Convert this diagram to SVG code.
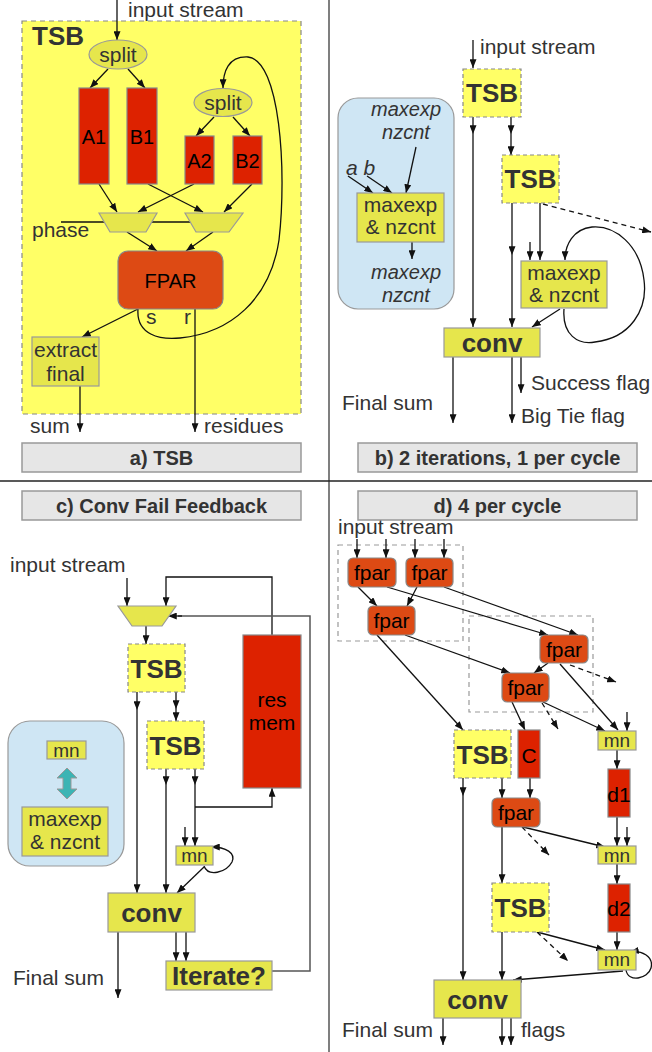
<svg xmlns="http://www.w3.org/2000/svg" width="652" height="1052" viewBox="0 0 652 1052">
<defs>
<marker id="ah" viewBox="0 0 10 8" refX="10" refY="4" markerWidth="9" markerHeight="7" markerUnits="userSpaceOnUse" orient="auto"><path d="M0,0 L10,4 L0,8 z" fill="#111"/></marker>
</defs>
<style>
.t{font-family:"Liberation Sans",Arial,sans-serif;font-size:21px;fill:#333}
.m{text-anchor:middle}
.b{font-weight:bold}
.i{font-style:italic}
.k{fill:#000}
.ln{stroke:#111;stroke-width:1.3;fill:none;marker-end:url(#ah)}
.pl{stroke:#111;stroke-width:1.3;fill:none}
.gl{stroke:#555;stroke-width:1.5;fill:none}
.ds{stroke-dasharray:5,4}
.yb{fill:#e6e64c;stroke:#999;stroke-width:1.2}
.tsb{fill:#ffff66;stroke:#888;stroke-dasharray:4,3;stroke-width:1.2}
.red{fill:#dd2200;stroke:#888;stroke-width:1.2}
.fp{fill:#dd4a14;stroke:#888;stroke-width:1.2}
.cap{fill:#e6e6e6;stroke:#999;stroke-width:1.5}
.leg{fill:#cfe6f4;stroke:#999;stroke-width:1.2}
.grp{fill:none;stroke:#999;stroke-dasharray:5,4;stroke-width:1.2}
</style>
<rect width="652" height="1052" fill="#fff"/>
<g id="dividers">
<line x1="329" y1="0" x2="329" y2="1052" stroke="#555" stroke-width="1.5"/>
<line x1="0" y1="481" x2="652" y2="481" stroke="#222" stroke-width="1.5"/>
</g>

<!-- Panel a -->
<g id="a-tsb-frame"><rect x="22" y="21" width="279" height="393" fill="#ffff66" stroke="#888" stroke-dasharray="5,4" stroke-width="1.2"/><text class="t b" x="32" y="45" style="font-size:26px">TSB</text></g>
<g id="a-connectors">
<line class="ln" x1="117" y1="0" x2="117" y2="40"/>
<line class="ln" x1="108" y1="69" x2="90" y2="88"/>
<line class="ln" x1="128" y1="69" x2="145" y2="88"/>
<line class="ln" x1="214" y1="117" x2="196" y2="136"/>
<line class="ln" x1="233" y1="117" x2="250" y2="136"/>
<line class="ln" x1="99" y1="184" x2="117" y2="212"/>
<line class="ln" x1="194" y1="184" x2="138" y2="212"/>
<line class="ln" x1="148" y1="184" x2="203" y2="212"/>
<line class="ln" x1="252" y1="184" x2="224" y2="212"/>
<line class="pl" x1="61" y1="222" x2="195" y2="222"/>
<line class="ln" x1="127" y1="232" x2="157" y2="251"/>
<line class="ln" x1="213" y1="232" x2="186" y2="251"/>
<path class="ln" d="M138,309 C136,335 160,340 180,338 C230,333 270,300 279,240 C287,170 280,60 248,57 C228,56 223,72 223,88"/>
<line class="ln" x1="138" y1="309" x2="82" y2="337"/>
<line class="ln" x1="80" y1="386" x2="80" y2="432"/>
<line class="ln" x1="195" y1="309" x2="195" y2="432"/>
</g>
<g id="a-split1"><ellipse class="yb" cx="118" cy="54.5" rx="29" ry="14.5"/><text class="t m" x="118" y="62">split</text></g>
<g id="a-split2"><ellipse class="yb" cx="223" cy="102.5" rx="29" ry="14"/><text class="t m" x="223" y="110">split</text></g>
<g id="a-A1"><rect class="red" x="79" y="88" width="30" height="96"/><text class="t m k" x="94" y="144" style="font-size:20px">A1</text></g>
<g id="a-B1"><rect class="red" x="127" y="88" width="30" height="96"/><text class="t m k" x="142" y="144" style="font-size:20px">B1</text></g>
<g id="a-A2"><rect class="red" x="185" y="136" width="29" height="48"/><text class="t m k" x="199.5" y="168" style="font-size:20px">A2</text></g>
<g id="a-B2"><rect class="red" x="233" y="136" width="29" height="48"/><text class="t m k" x="247.5" y="168" style="font-size:20px">B2</text></g>
<g id="a-mux1"><polygon class="yb" points="99,213 157,213 146,232 110,232"/></g>
<g id="a-mux2"><polygon class="yb" points="185,213 243,213 229,232 196,232"/></g>
<g id="a-fpar"><rect class="fp" x="118" y="251" width="105" height="58" rx="10"/><text class="t m k" x="170.5" y="288" style="font-size:20px">FPAR</text></g>
<g id="a-extract"><rect class="yb" x="32" y="337" width="67" height="49"/><text class="t m" x="65.5" y="357">extract</text><text class="t m" x="65.5" y="381">final</text></g>
<g id="a-labels">
<text class="t" x="128" y="17">input stream</text>
<text class="t" x="32" y="237">phase</text>
<text class="t" x="146" y="324">s</text>
<text class="t" x="184" y="324">r</text>
<text class="t" x="30" y="433">sum</text>
<text class="t" x="204" y="433">residues</text>
</g>
<g id="a-caption"><rect class="cap" x="22" y="443" width="279" height="29"/><text class="t m b" x="161.5" y="465" style="font-size:20px">a) TSB</text></g>

<!-- Panel b -->
<g id="b-legend"><rect class="leg" x="338" y="98" width="116" height="211" rx="20"/>
<text class="t m i" x="406" y="116" style="font-size:20px">maxexp</text><text class="t m i" x="406" y="139" style="font-size:20px">nzcnt</text>
<text class="t i" x="346" y="175">a b</text>
<text class="t m i" x="406" y="279" style="font-size:20px">maxexp</text><text class="t m i" x="406" y="302" style="font-size:20px">nzcnt</text>
</g>
<g id="b-connectors">
<line class="ln" x1="473" y1="40" x2="473" y2="68"/>
<line class="ln" x1="473" y1="117" x2="473" y2="134"/>
<line class="ln" x1="473" y1="134" x2="473" y2="327"/>
<line class="ln" x1="511" y1="117" x2="511" y2="134"/>
<line class="ln" x1="511" y1="134" x2="511" y2="155"/>
<line class="ln" x1="512" y1="203" x2="512" y2="255"/>
<line class="ln" x1="512" y1="255" x2="512" y2="327"/>
<line class="ln" x1="540" y1="203" x2="540" y2="260"/>
<line class="ln" x1="530" y1="242" x2="530" y2="260"/>
<line class="ln ds" x1="543" y1="204" x2="651" y2="232"/>
<path class="ln" d="M564,309 C562,335 578,345 595,342 C630,338 648,310 644,280 C640,245 615,225 592,227 C573,229 565,245 565,260"/>
<line class="ln" x1="560" y1="309" x2="532" y2="327"/>
<line class="ln" x1="453" y1="357" x2="453" y2="423"/>
<line class="ln" x1="512" y1="357" x2="512" y2="423"/>
<line class="ln" x1="521" y1="357" x2="521" y2="393"/>
<line class="ln" x1="348" y1="176" x2="373" y2="193"/>
<line class="ln" x1="367" y1="176" x2="392" y2="193"/>
<line class="ln" x1="416" y1="147" x2="406" y2="193"/>
<line class="ln" x1="412" y1="242" x2="412" y2="259"/>
</g>
<g id="b-legend-box"><rect class="yb" x="357" y="193" width="87" height="49"/><text class="t m" x="400.5" y="212">maxexp</text><text class="t m" x="400.5" y="234">&amp; nzcnt</text></g>
<g id="b-tsb1"><rect class="tsb" x="463" y="69" width="58" height="48"/><text class="t m b" x="492" y="102" style="font-size:26px">TSB</text></g>
<g id="b-tsb2"><rect class="tsb" x="502" y="155" width="57" height="48"/><text class="t m b" x="530.5" y="188" style="font-size:26px">TSB</text></g>
<g id="b-maxexp"><rect class="yb" x="521" y="261" width="86" height="47"/><text class="t m" x="564" y="280">maxexp</text><text class="t m" x="564" y="302">&amp; nzcnt</text></g>
<g id="b-conv"><rect class="yb" x="444" y="328" width="96" height="29"/><text class="t m b" x="492" y="352" style="font-size:26px">conv</text></g>
<g id="b-labels">
<text class="t" x="480" y="54">input stream</text>
<text class="t" x="342" y="410">Final sum</text>
<text class="t" x="531" y="390">Success flag</text>
<text class="t" x="521" y="423">Big Tie flag</text>
</g>
<g id="b-caption"><rect class="cap" x="358" y="443" width="279" height="29"/><text class="t m b" x="497.5" y="465" style="font-size:20px">b) 2 iterations, 1 per cycle</text></g>

<!-- Panel c -->
<g id="c-caption"><rect class="cap" x="22" y="491" width="279" height="29"/><text class="t m b" x="161.5" y="513" style="font-size:20px">c) Conv Fail Feedback</text></g>
<g id="c-legend"><rect class="leg" x="8" y="721" width="116" height="145" rx="22"/>
<polygon points="67,768 77,778 71,778 71,789 77,789 67,799 57,789 63,789 63,778 57,778" fill="#3cb4b4" stroke="#999" stroke-width="1"/>
</g>
<g id="c-legend-mn"><rect class="yb" x="47" y="741" width="39" height="18"/><text class="t m" x="66.5" y="757" style="font-size:19px">mn</text></g>
<g id="c-legend-maxexp"><rect class="yb" x="22" y="807" width="86" height="49"/><text class="t m" x="65" y="826">maxexp</text><text class="t m" x="65" y="849">&amp; nzcnt</text></g>
<g id="c-connectors">
<line class="ln" x1="127" y1="578" x2="127" y2="606"/>
<polyline class="ln" points="272,635 272,577 166,577 166,606"/>
<polyline class="gl" points="272,971 310,971 310,616 178,616"/>
<line class="ln" x1="182" y1="616" x2="168" y2="616"/>
<line class="ln" x1="146" y1="626" x2="146" y2="644"/>
<line class="ln" x1="137" y1="692" x2="137" y2="710"/>
<line class="ln" x1="137" y1="710" x2="137" y2="893"/>
<line class="ln" x1="176" y1="692" x2="176" y2="709"/>
<line class="ln" x1="176" y1="709" x2="176" y2="721"/>
<line class="ln" x1="166" y1="769" x2="166" y2="785"/>
<line class="ln" x1="166" y1="785" x2="166" y2="893"/>
<line class="ln" x1="195" y1="769" x2="195" y2="785"/>
<line class="ln" x1="195" y1="785" x2="195" y2="846"/>
<polyline class="ln" points="195,807 272,807 272,788"/>
<line class="ln" x1="185" y1="827" x2="185" y2="846"/>
<path class="ln" d="M204,866 C208,877 226,873 232,862 C236,853 226,847 211,847"/>
<line class="ln" x1="204" y1="867" x2="177" y2="893"/>
<line class="ln" x1="118" y1="932" x2="118" y2="998"/>
<line class="ln" x1="176" y1="932" x2="176" y2="961"/>
<line class="ln" x1="186" y1="932" x2="186" y2="961"/>
</g>
<g id="c-mux"><polygon class="yb" points="118,606 176,606 162,626 132,626"/></g>
<g id="c-tsb1"><rect class="tsb" x="128" y="644" width="57" height="48"/><text class="t m b" x="156.5" y="678" style="font-size:26px">TSB</text></g>
<g id="c-tsb2"><rect class="tsb" x="147" y="721" width="57" height="48"/><text class="t m b" x="175.5" y="755" style="font-size:26px">TSB</text></g>
<g id="c-resmem"><rect class="red" x="243" y="635" width="58" height="153"/><text class="t m k" x="272" y="707">res</text><text class="t m k" x="272" y="730">mem</text></g>
<g id="c-mn"><rect class="yb" x="176" y="846" width="37" height="19"/><text class="t m" x="194.5" y="862" style="font-size:19px">mn</text></g>
<g id="c-conv"><rect class="yb" x="108" y="893" width="87" height="39"/><text class="t m b" x="151.5" y="922" style="font-size:26px">conv</text></g>
<g id="c-iterate"><rect class="yb" x="166" y="961" width="106" height="29"/><text class="t m b" x="219" y="985" style="font-size:26px">Iterate?</text></g>
<g id="c-labels">
<text class="t" x="10" y="572">input stream</text>
<text class="t" x="13" y="985">Final sum</text>
</g>

<!-- Panel d -->
<g id="d-caption"><rect class="cap" x="358" y="491" width="279" height="29"/><text class="t m b" x="497.5" y="513" style="font-size:20px">d) 4 per cycle</text></g>
<g id="d-groups">
<rect class="grp" x="338" y="545" width="125" height="96"/>
<rect class="grp" x="469" y="616" width="124" height="96"/>
</g>
<g id="d-connectors">
<line class="ln" x1="357" y1="539" x2="357" y2="558"/>
<line class="ln" x1="386" y1="539" x2="386" y2="558"/>
<line class="ln" x1="415" y1="539" x2="415" y2="558"/>
<line class="ln" x1="444" y1="539" x2="444" y2="558"/>
<line class="ln" x1="358" y1="587" x2="377" y2="606"/>
<line class="ln" x1="417" y1="587" x2="407" y2="606"/>
<line class="ln" x1="387" y1="587" x2="548" y2="635"/>
<line class="ln" x1="444" y1="587" x2="578" y2="635"/>
<line class="ln" x1="405" y1="635" x2="510" y2="673"/>
<line class="ln" x1="548" y1="663" x2="534" y2="673"/>
<line class="ln" x1="377" y1="635" x2="463" y2="730"/>
<line class="ln ds" x1="570" y1="665" x2="616" y2="682"/>
<line class="ln" x1="560" y1="664" x2="618" y2="730"/>
<line class="ln" x1="512" y1="702" x2="525" y2="730"/>
<line class="ln ds" x1="542" y1="703" x2="558" y2="729"/>
<line class="ln" x1="543" y1="702" x2="605" y2="731"/>
<line class="ln" x1="627" y1="712" x2="627" y2="731"/>
<line class="ln" x1="617" y1="750" x2="617" y2="769"/>
<line class="ln" x1="617" y1="817" x2="617" y2="846"/>
<line class="ln" x1="627" y1="827" x2="627" y2="846"/>
<line class="ln" x1="617" y1="864" x2="617" y2="884"/>
<line class="ln" x1="617" y1="932" x2="617" y2="950"/>
<path class="ln" d="M626,970 C628,983 648,979 651,968 C654,956 641,950 630,952"/>
<line class="ln" x1="623" y1="971" x2="513" y2="980"/>
<line class="ln" x1="463" y1="778" x2="463" y2="796"/>
<line class="ln" x1="463" y1="796" x2="463" y2="980"/>
<line class="ln" x1="502" y1="778" x2="502" y2="798"/>
<line class="ln" x1="530" y1="778" x2="530" y2="798"/>
<line class="ln" x1="502" y1="827" x2="502" y2="883"/>
<line class="ln ds" x1="522" y1="827" x2="549" y2="855"/>
<line class="ln" x1="523" y1="827" x2="605" y2="847"/>
<line class="ln" x1="502" y1="932" x2="502" y2="980"/>
<line class="ln ds" x1="537" y1="932" x2="568" y2="961"/>
<line class="ln" x1="537" y1="932" x2="605" y2="950"/>
<line class="ln" x1="443" y1="1018" x2="443" y2="1045"/>
<line class="ln" x1="502" y1="1018" x2="502" y2="1045"/>
<line class="ln" x1="511" y1="1018" x2="511" y2="1045"/>
</g>
<g id="d-fpar1"><rect class="fp" x="348" y="558" width="48" height="29" rx="5"/><text class="t m k" x="372" y="580">fpar</text></g>
<g id="d-fpar2"><rect class="fp" x="406" y="558" width="47" height="29" rx="5"/><text class="t m k" x="429.5" y="580">fpar</text></g>
<g id="d-fpar3"><rect class="fp" x="368" y="606" width="47" height="29" rx="5"/><text class="t m k" x="391.5" y="628">fpar</text></g>
<g id="d-fpar4"><rect class="fp" x="540" y="635" width="48" height="28" rx="5"/><text class="t m k" x="564" y="657">fpar</text></g>
<g id="d-fpar5"><rect class="fp" x="502" y="673" width="47" height="29" rx="5"/><text class="t m k" x="525.5" y="695">fpar</text></g>
<g id="d-tsb1"><rect class="tsb" x="454" y="730" width="57" height="48"/><text class="t m b" x="482.5" y="764" style="font-size:26px">TSB</text></g>
<g id="d-C"><rect class="red" x="518" y="730" width="22" height="48"/><text class="t m k" x="529" y="763">C</text></g>
<g id="d-fpar6"><rect class="fp" x="492" y="798" width="48" height="29" rx="5"/><text class="t m k" x="516" y="820">fpar</text></g>
<g id="d-tsb2"><rect class="tsb" x="492" y="883" width="57" height="49"/><text class="t m b" x="520.5" y="917" style="font-size:26px">TSB</text></g>
<g id="d-mn1"><rect class="yb" x="598" y="731" width="38" height="19"/><text class="t m" x="617" y="747" style="font-size:19px">mn</text></g>
<g id="d-d1"><rect class="red" x="608" y="769" width="22" height="48"/><text class="t m k" x="619" y="802">d1</text></g>
<g id="d-mn2"><rect class="yb" x="598" y="846" width="38" height="18"/><text class="t m" x="617" y="862" style="font-size:19px">mn</text></g>
<g id="d-d2"><rect class="red" x="608" y="884" width="22" height="48"/><text class="t m k" x="619" y="916">d2</text></g>
<g id="d-mn3"><rect class="yb" x="598" y="950" width="38" height="20"/><text class="t m" x="617" y="966" style="font-size:19px">mn</text></g>
<g id="d-conv"><rect class="yb" x="434" y="980" width="87" height="38"/><text class="t m b" x="477.5" y="1009" style="font-size:26px">conv</text></g>
<g id="d-labels">
<text class="t" x="338" y="534">input stream</text>
<text class="t" x="342" y="1037">Final sum</text>
<text class="t" x="521" y="1037">flags</text>
</g>
</svg>
